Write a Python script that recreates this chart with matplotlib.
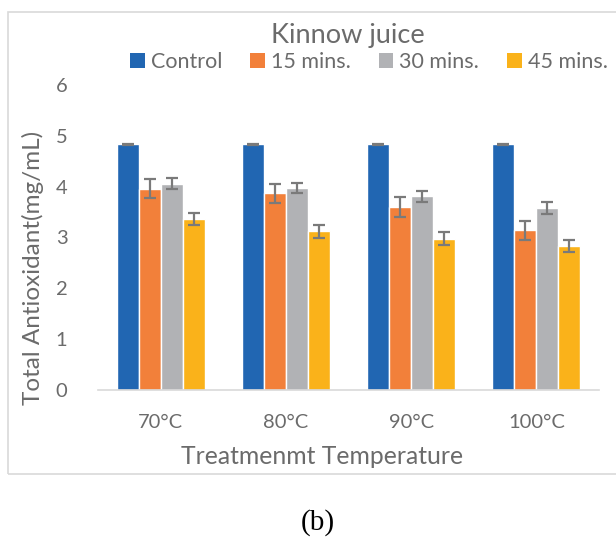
import numpy as np
import matplotlib
matplotlib.use("Agg")
from matplotlib import pyplot as plt
from matplotlib.patches import Rectangle

plt.rcParams['font.family'] = ['Lato', 'DejaVu Sans']

temps = ['70°C', '80°C', '90°C', '100°C']
series = ['Control', '15 mins.', '30 mins.', '45 mins.']
control = [4.83, 4.83, 4.83, 4.83]
min15 = [3.96, 3.87, 3.60, 3.14]
min30 = [4.06, 3.98, 3.81, 3.58]
min45 = [3.36, 3.12, 2.98, 2.83]
err_control = [0.01, 0.01, 0.01, 0.01]
err15 = [0.19, 0.19, 0.19, 0.19]
err30 = [0.11, 0.10, 0.11, 0.11]
err45 = [0.12, 0.12, 0.12, 0.12]

colors = ['#2166b2', '#f2803a', '#b1b2b5', '#fab21a']
txt = '#6b6b6b'

fig = plt.figure(figsize=(6.16, 5.39), dpi=100)
ax = fig.add_axes([98/616, 1-390/539, 501/616, 305/539])

x = np.arange(len(temps))
w = 0.176
vals = [control, min15, min30, min45]
errs = [err_control, err15, err30, err45]
for i in range(4):
    ax.bar(x + (i-1.5)*w, vals[i], w, color=colors[i], edgecolor='white',
           linewidth=1.0, label=series[i], zorder=2,
           yerr=errs[i], error_kw=dict(ecolor='#7a7a7a', elinewidth=1.6,
                                       capsize=4.6, capthick=1.6, zorder=3))

ax.set_xlim(-0.5, 3.5)
ax.set_ylim(0, 6)
ax.set_xticks(x)
ax.set_xticklabels(temps)
ax.set_yticks(range(7))
for s in ['top', 'right', 'left']:
    ax.spines[s].set_visible(False)
ax.spines['bottom'].set_color('#d9d9d9')
ax.spines['bottom'].set_linewidth(1.2)
ax.tick_params(axis='both', length=0, colors=txt, labelsize=14.5)
ax.tick_params(axis='y', pad=22)
ax.tick_params(axis='x', pad=17)

fig.text(348/616, 1-35/539, 'Kinnow juice', ha='center', va='center',
         fontsize=19.5, color=txt)
fig.text(322/616, 1-456/539, 'Treatmenmt Temperature', ha='center',
         va='center', fontsize=17.8, color=txt)
fig.text(33/616, 1-268/539, 'Total Antioxidant(mg/mL)', ha='center',
         va='center', rotation=90, fontsize=17.5, color=txt)
fig.text(318/616, 1-523/539, '(b)', ha='center', va='center',
         fontsize=21, family='Liberation Serif', color='black')

leg = fig.legend(loc='center', bbox_to_anchor=(369/616, 1-62/539), ncol=4,
                 frameon=False, fontsize=15.5, handlelength=0.67,
                 handleheight=0.67, handletextpad=0.29, columnspacing=1.3,
                 borderpad=0)
for t in leg.get_texts():
    t.set_color(txt)
for h in leg.legend_handles:
    h.set_edgecolor('none')

fig.patches.append(Rectangle((8/616, 1-474/539), 620/616, 462/539,
                             transform=fig.transFigure, fill=False,
                             edgecolor='#d9d9d9', linewidth=1.2))

fig.savefig('out.png', dpi=100)
